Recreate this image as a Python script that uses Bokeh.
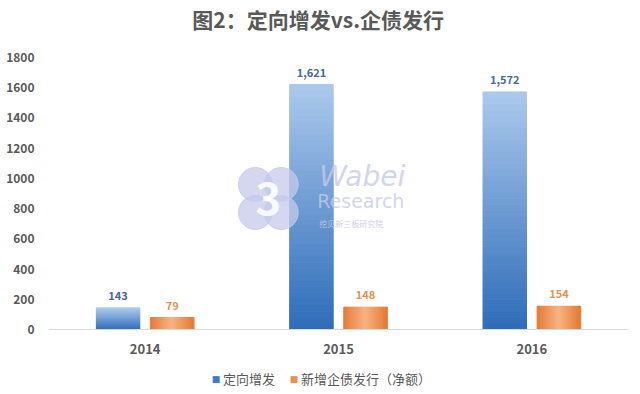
from bokeh.plotting import figure
from bokeh.models import Range1d, FixedTicker, Label, ColumnDataSource, Span
from bokeh.embed import file_html
from bokeh.resources import INLINE

years = ["2014", "2015", "2016"]
placement = [143, 1621, 1572]          # 定向增发
bonds = [79, 148, 154]                 # 新增企债发行（净额）
series_names = ["定向增发", "新增企债发行（净额）"]
title_text = "图2：定向增发vs.企债发行"
y_ticks = [0, 200, 400, 600, 800, 1000, 1200, 1400, 1600, 1800]

FONT = "Noto Sans CJK SC"
GRAY = "#595959"

# layout: value axis 0..1800 spans pixel rows 57..329 of a 392-high canvas
H = 392
PX = (329 - 57) / 1800.0
y_top = 1800 + 57 / PX
y_bot = -(H - 329) / PX

p = figure(width=630, height=H, output_backend="svg", toolbar_location=None,
           x_range=Range1d(0, 3), y_range=Range1d(y_bot, y_top),
           min_border_left=48, min_border_right=2, min_border_top=0, min_border_bottom=0)
p.outline_line_color = None
p.grid.visible = False
p.xaxis.visible = False

def lerp(c1, c2, t):
    a = [int(c1[i:i + 2], 16) for i in (1, 3, 5)]
    b = [int(c2[i:i + 2], 16) for i in (1, 3, 5)]
    return "#%02x%02x%02x" % tuple(round(a[j] + (b[j] - a[j]) * t) for j in range(3))

BW = 0.225
OFF = 0.14
N = 40
# blue bars: vertical gradient
bx, bb, bt, bc = [], [], [], []
for i, v in enumerate(placement):
    for k in range(N):
        bx.append(i + 0.5 - OFF)
        bb.append(v * k / N)
        bt.append(v * (k + 1) / N)
        bc.append(lerp("#2e6cb8", "#abc9ec", (k + 0.5) / N))
p.vbar(x="x", bottom="b", top="t", width=BW, color="c",
       source=ColumnDataSource(dict(x=bx, b=bb, t=bt, c=bc)))
# orange bars: horizontal gradient
ox, ot, oc = [], [], []
M = 24
for i, v in enumerate(bonds):
    for k in range(M):
        t = (k + 0.5) / M
        ox.append(i + 0.5 + OFF - BW / 2 + BW * t)
        ot.append(v)
        oc.append(lerp("#e57a34", "#f7b384", 1 - abs(2 * t - 1)))
p.vbar(x="x", bottom=0, top="t", width=BW / M * 1.05, color="c",
       source=ColumnDataSource(dict(x=ox, t=ot, c=oc)))

# baseline
p.add_layout(Span(location=0, dimension="width", line_color="#d9d9d9", line_width=1))

# title
p.add_layout(Label(x=1.395, y=1800 + (57 - 18) / PX, text=title_text, text_align="center",
                   text_baseline="middle", text_font=FONT, text_font_size="21px",
                   text_font_style="bold", text_color=GRAY))

# category labels
for i, yr in enumerate(years):
    p.add_layout(Label(x=i + 0.5, y=0, y_offset=-19, text=yr, text_align="center",
                       text_baseline="middle", text_font=FONT, text_font_size="13px",
                       text_font_style="bold", text_color=GRAY))

# value labels
for i, v in enumerate(placement):
    p.add_layout(Label(x=i + 0.5 - OFF, y=v, text=f"{v:,}", text_align="center", y_offset=8,
                       text_font=FONT, text_font_size="11px", text_font_style="bold",
                       text_color="#44699e"))
for i, v in enumerate(bonds):
    p.add_layout(Label(x=i + 0.5 + OFF, y=v, text=f"{v:,}", text_align="center", y_offset=8,
                       text_font=FONT, text_font_size="11px", text_font_style="bold",
                       text_color="#e8904f"))

# legend below the axis
LEG_Y = -(378 - 329) / PX
for lx, col, name in [(0.866, "#3f7cc4", series_names[0]), (1.27, "#ee9050", series_names[1])]:
    p.add_layout(Label(x=lx, y=LEG_Y, text="■", text_align="center", text_baseline="middle",
                       text_font="DejaVu Sans", text_font_size="9px", text_color=col))
    p.add_layout(Label(x=lx + 0.036, y=LEG_Y, text=name, text_align="left", text_baseline="middle",
                       text_font=FONT, text_font_size="13px", text_color=GRAY))

# watermark
WM = "#c5cae9"
p.scatter(x=[1.137 - 0.067, 1.137 + 0.067, 1.137 - 0.067, 1.137 + 0.067],
          y=[867 + 93, 867 + 93, 867 - 93, 867 - 93], size=34, color=WM, alpha=0.75)
p.add_layout(Label(x=1.137, y=867, text="3", text_align="center", text_baseline="middle",
                   text_font=FONT, text_font_size="44px", text_font_style="bold", text_color="white",
                   text_alpha=0.9))
p.add_layout(Label(x=1.40, y=905, text="Wabei", text_font="DejaVu Sans", text_font_size="28px",
                   text_font_style="italic", text_color=WM, text_alpha=0.8))
p.add_layout(Label(x=1.39, y=775, text="Research", text_font="DejaVu Sans", text_font_size="19px",
                   text_color=WM, text_alpha=0.8))
p.add_layout(Label(x=1.40, y=668, text="挖贝新三板研究院", text_font=FONT, text_font_size="8px",
                   text_color=WM, text_alpha=0.9))

# value axis
p.yaxis.ticker = FixedTicker(ticks=y_ticks)
p.yaxis.axis_line_color = None
p.yaxis.major_tick_line_color = None
p.yaxis.minor_tick_line_color = None
p.yaxis.major_label_standoff = 8
p.yaxis.major_label_text_font = FONT
p.yaxis.major_label_text_font_size = "12px"
p.yaxis.major_label_text_font_style = "bold"
p.yaxis.major_label_text_color = GRAY

open("out.html", "w").write(file_html(p, INLINE))
